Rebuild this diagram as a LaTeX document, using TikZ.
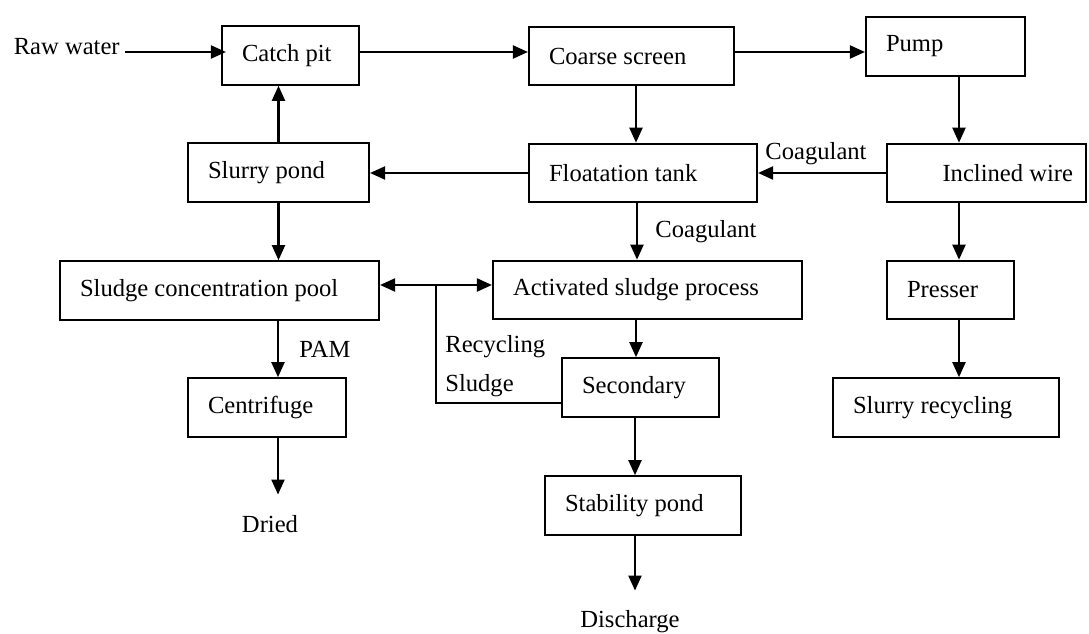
\documentclass[tikz,border=0pt]{standalone}
\usepackage{fontspec}
\setmainfont{Liberation Serif}
\usetikzlibrary{arrows.meta}

\tikzset{
  box/.style={draw, line width=1.2pt, inner xsep=4mm, inner ysep=0pt, align=flush left,
    minimum height=1.17cm, text width=#1},
  lbl/.style={inner sep=0pt},
  flow/.style={line width=1.2pt, -{Triangle[length=3mm,width=2.6mm]}},
}

\begin{document}
\begin{tikzpicture}[font=\fontsize{14}{17}\selectfont]
\useasboundingbox (0,0) rectangle (21.78,-12.68);

\node[box=1.94cm] (catch) at (5.81,-1.11) {Catch pit};
\node[box=3.30cm] (coarse) at (12.63,-1.12) {Coarse screen};
\node[box=2.38cm] (pump) at (18.91,-0.93) {Pump};
\node[box=2.82cm] (slurry) at (5.57,-3.45) {Slurry pond};
\node[box=3.76cm] (float) at (12.86,-3.46) {Floatation tank};
\node[box=3.46cm, inner xsep=2.6mm, align=flush right] (incl) at (19.73,-3.46) {Inclined wire};
\node[box=5.58cm] (conc) at (4.39,-5.81) {Sludge concentration pool};
\node[box=5.38cm] (act) at (12.95,-5.80) {Activated sludge process};
\node[box=1.74cm] (press) at (19.01,-5.80) {Presser};
\node[box=2.36cm] (centr) at (5.34,-8.15) {Centrifuge};
\node[box=2.34cm] (sec) at (12.81,-7.75) {Secondary};
\node[box=3.72cm] (recyc) at (18.92,-8.15) {Slurry recycling};
\node[box=3.12cm] (stab) at (12.86,-10.11) {Stability pond};

\node[lbl, anchor=base east] (raw) at (2.40,-1.10) {Raw water};
\node[lbl, anchor=base] (coag1) at (16.32,-3.20) {Coagulant};
\node[lbl, anchor=base] (coag2) at (14.12,-4.76) {Coagulant};
\node[lbl, anchor=base] (pam) at (6.50,-7.16) {PAM};
\node[lbl, anchor=base west] (rec1) at (8.90,-7.06) {Recycling};
\node[lbl, anchor=base west] (rec2) at (8.90,-7.84) {Sludge};
\node[lbl, anchor=base] (dried) at (5.40,-10.66) {Dried};
\node[lbl, anchor=base] (dis) at (12.60,-12.56) {Discharge};

\coordinate (jn) at (8.72,-5.70);

\draw[flow] ([shift={(0.1,0.06)}]raw.base east) -- ([shift={(0.1,0.06)}]raw.base east -| catch.west);
\draw[flow] ([yshift=0.7mm]catch.east) -- ([yshift=0.7mm]catch.east -| coarse.west);
\draw[flow] ([yshift=0.8mm]coarse.east) -- ([yshift=0.8mm]coarse.east -| pump.west);
\draw[flow] ([xshift=2.7mm]pump.south) -- ([xshift=2.7mm]pump.south |- incl.north);
\draw[flow] (incl.west) -- (incl.west -| float.east);
\draw[flow] (float.west) -- (float.west -| slurry.east);
\draw[flow] ([xshift=0.9mm]coarse.south) -- ([xshift=0.9mm]coarse.south |- float.north);
\draw[flow] (slurry.north) -- (slurry.north |- catch.south);
\draw[flow] (slurry.south) -- (slurry.south |- conc.north);
\draw[flow] ([xshift=-1.2mm]float.south) -- ([xshift=-1.2mm]float.south |- act.north);
\draw[flow, {Triangle[length=3mm,width=2.6mm]}-] (conc.east |- jn) -- (jn);
\draw[flow] (jn) -- (jn -| act.west);
\draw[line width=1.2pt] ([yshift=-3.1mm]sec.west) -| (jn);
\draw[flow] ([xshift=-2.3mm]act.south) -- ([xshift=-2.3mm]act.south |- sec.north);
\draw[flow] ([xshift=-1.1mm]sec.south) -- ([xshift=-1.1mm]sec.south |- stab.north);
\draw[flow, shorten >=4mm] ([xshift=-1.6mm]stab.south) -- ([xshift=-1.6mm]stab.south |- dis.north);
\draw[flow] ([xshift=2.2mm]centr.north |- conc.south) -- ([xshift=2.2mm]centr.north);
\draw[flow, shorten >=4.2mm] ([xshift=2.2mm]centr.south) -- ([xshift=2.2mm]centr.south |- dried.north);
\draw[flow] ([xshift=1.7mm]press.north |- incl.south) -- ([xshift=1.7mm]press.north);
\draw[flow] ([xshift=1.7mm]press.south) -- ([xshift=1.7mm]press.south |- recyc.north);
\end{tikzpicture}
\end{document}
